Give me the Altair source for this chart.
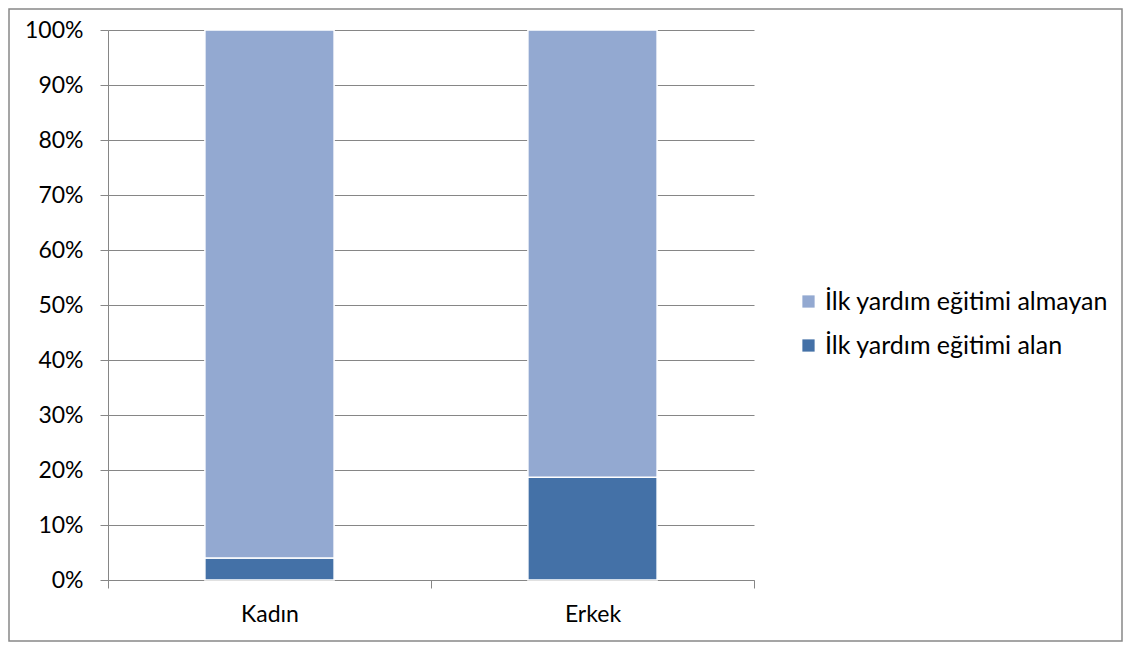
import altair as alt
import pandas as pd

categories = ["Kadın", "Erkek"]
series = ["İlk yardım eğitimi almayan", "İlk yardım eğitimi alan"]
alan = [4.0, 18.7]
almayan = [96.0, 81.3]
y_ticks = [0, 0.1, 0.2, 0.3, 0.4, 0.5, 0.6, 0.7, 0.8, 0.9, 1.0]

colors = ["#93A9D1", "#4471A7"]
FONT = "Lato"

rows = []
for i, c in enumerate(categories):
    rows.append({"cat": c, "series": series[1], "value": alan[i], "ord": 0})
    rows.append({"cat": c, "series": series[0], "value": almayan[i], "ord": 1})
df = pd.DataFrame(rows)

W, H = 646, 550
PL, PT = 100, 22
TOTAL_W, TOTAL_H = 1115, 634

bars = alt.Chart(df).mark_bar(
    stroke="white", strokeWidth=1.5, width=alt.RelativeBandSize(0.4)
).encode(
    x=alt.X("cat:N", sort=categories, title=None,
            scale=alt.Scale(paddingInner=0, paddingOuter=0),
            axis=alt.Axis(labelAngle=0, tickBand="extent", tickSize=8,
                          labelPadding=15, labelFontSize=23, labelFont=FONT,
                          labelColor="#000000", domainColor="#868686",
                          tickColor="#868686", grid=False)),
    y=alt.Y("value:Q", stack="normalize", title=None,
            scale=alt.Scale(domain=[0, 1]),
            axis=alt.Axis(values=y_ticks, format=".0%", tickSize=8,
                          labelPadding=17, labelFontSize=23, labelFont=FONT,
                          labelColor="#000000", domainColor="#868686",
                          tickColor="#868686", gridColor="#868686",
                          gridOpacity=1)),
    color=alt.Color("series:N", scale=alt.Scale(domain=series, range=colors),
                    legend=alt.Legend(title=None, orient="none",
                                      legendX=688, legendY=259,
                                      symbolType="square", symbolSize=150,
                                      symbolStrokeWidth=0, symbolOpacity=1,
                                      labelFont=FONT, labelFontSize=25,
                                      labelColor="#000000", labelOffset=4,
                                      rowPadding=18, labelLimit=400)),
    order=alt.Order("ord:Q"),
)

frame_df = pd.DataFrame({"x": [0]})
frame = alt.Chart(frame_df).mark_rect(
    fill=None, stroke="#888888", strokeWidth=1.5, clip=False
).encode(
    x=alt.value(-PL + 1), x2=alt.value(TOTAL_W - PL - 1),
    y=alt.value(-PT + 1), y2=alt.value(TOTAL_H - PT - 1),
)

chart = alt.layer(bars, frame).properties(
    width=W, height=H,
    autosize=alt.AutoSizeParams(type="none"),
    padding={"left": PL, "top": PT, "right": TOTAL_W - PL - W, "bottom": TOTAL_H - PT - H},
).configure_view(stroke=None)

chart.save("out.html", embed_options={"renderer": "svg", "actions": False})
